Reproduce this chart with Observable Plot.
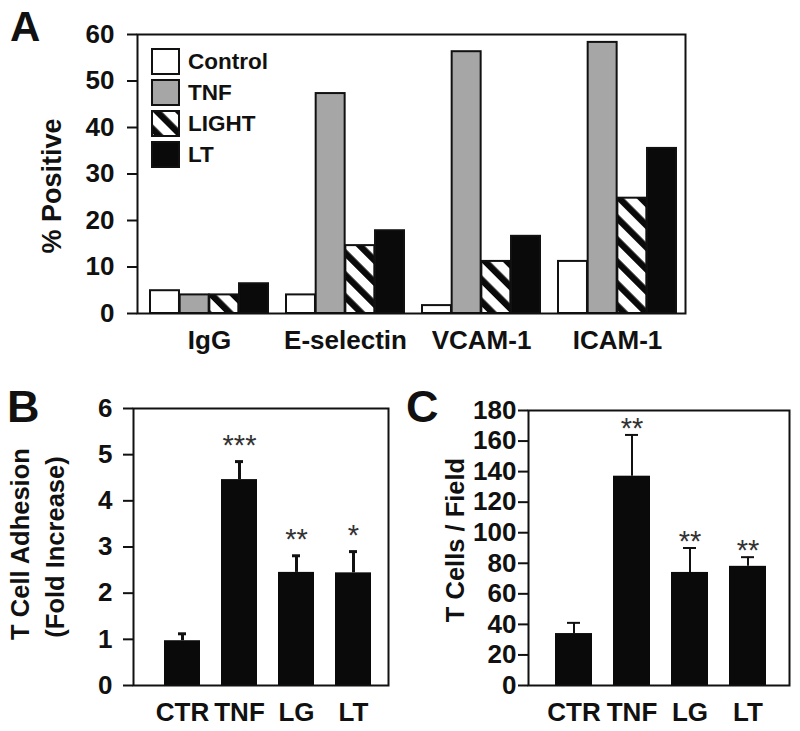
<!DOCTYPE html>
<html>
<head>
<meta charset="utf-8">
<script src="https://cdn.jsdelivr.net/npm/d3@7"></script>
<script src="https://cdn.jsdelivr.net/npm/@observablehq/plot@0.6"></script>
<style>
  body { margin: 0; background: #fff; }
  #wrap { position: relative; width: 800px; height: 731px; background: #fff; color: #111;
          font-family: "Liberation Sans", Arial, sans-serif; font-weight: bold; overflow: hidden; }
  .panel { position: absolute; }
  .letter { position: absolute; font-weight: bold; line-height: 1; }
  .legend { position: absolute; left: 151px; top: 46px; font-size: 22.5px; }
  .legend .row { display: flex; align-items: center; height: 31px; }
  .legend .row svg { margin-right: 7px; }
  #wrap g[aria-label^="y-axis"] line, #wrap g[aria-label^="y-axis"] path { stroke-width: 2px; stroke: #111; }
</style>
</head>
<body>
<div id="wrap"></div>
<script>
// ---------- Panel A data ----------
const groups = ["IgG", "E-selectin", "VCAM-1", "ICAM-1"];
const series = ["Control", "TNF", "LIGHT", "LT"];
const controlVals = [4.9, 4.0, 1.7, 11.2];
const tnfVals = [4.0, 47.3, 56.3, 58.3];
const lightVals = [4.0, 14.6, 11.2, 24.8];
const ltVals = [6.4, 17.8, 16.6, 35.5];
const yTitleA = "% Positive";

// ---------- Panel B data ----------
const conditions = ["CTR", "TNF", "LG", "LT"];
const adhesionMean = [0.97, 4.46, 2.45, 2.44];
const adhesionErr = [0.15, 0.39, 0.36, 0.46];
const adhesionStars = ["", "***", "**", "*"];
const yTitleB1 = "T Cell Adhesion";
const yTitleB2 = "(Fold Increase)";

// ---------- Panel C data ----------
const cellsMean = [34, 137, 74, 78];
const cellsErr = [7, 27, 16, 6];
const cellsStars = ["", "**", "**", "**"];
const yTitleC = "T Cells / Field";

const INK = "#111";
const seriesVals = [controlVals, tnfVals, lightVals, ltVals];
const seriesFill = ["#ffffff", "#a6a6a6", "url(#hatch)", "#0a0a0a"];
const FONT = '"Liberation Sans", Arial, sans-serif';

const wrap = document.getElementById("wrap");
function place(node, left, top) {
  const d = document.createElement("div");
  d.className = "panel";
  d.style.left = left + "px";
  d.style.top = top + "px";
  d.appendChild(node);
  wrap.appendChild(d);
  return d;
}
const baseStyle = { fontFamily: FONT, fontSize: "26px", fontWeight: "bold", color: INK, background: "transparent", overflow: "visible" };

// ---------- Panel A ----------
const A = { width: 700, height: 360, ml: 137, mr: 15, mt: 34, mb: 47, inL: 12, inR: 8, pad: 0.13 };
const bwA = (A.width - A.ml - A.mr - A.inL - A.inR) / (groups.length - A.pad) * (1 - A.pad);
const barW = bwA / series.length;

const plotA = Plot.plot({
  width: A.width, height: A.height,
  marginLeft: A.ml, marginRight: A.mr, marginTop: A.mt, marginBottom: A.mb,
  style: baseStyle,
  x: { domain: groups, paddingInner: A.pad, paddingOuter: 0, insetLeft: A.inL, insetRight: A.inR,
       tickSize: 0, tickPadding: 17, label: null },
  y: { domain: [0, 60], ticks: 6, tickSize: 10, tickPadding: 13, label: null },
  marks: [
    ...series.map((s, i) => Plot.barY(
      groups.map((g, j) => ({ group: g, series: s, value: seriesVals[i][j] })),
      { x: "group", y: "value", fill: seriesFill[i], stroke: INK, strokeWidth: 2,
        insetLeft: i * barW, insetRight: (series.length - 1 - i) * barW })),
    Plot.frame({ stroke: INK, strokeWidth: 2 }),
    Plot.text([yTitleA], { text: d => d, frameAnchor: "left", textAnchor: "middle", lineAnchor: "middle",
      rotate: -90, dx: -85, dy: 12, fontSize: 27, fontWeight: "bold", fill: INK })
  ]
});
d3.select(plotA).insert("defs", ":first-child").html(
  `<pattern id="hatch" patternUnits="userSpaceOnUse" width="15.5" height="15.5" patternTransform="rotate(-45)">
     <rect width="15.5" height="15.5" fill="#fff"/><rect x="0" width="6.5" height="15.5" fill="#0a0a0a"/>
   </pattern>`);
place(plotA, 0, 0);

// ---------- Panels B & C ----------
function errPanel({ means, errs, stars, domain, ticks, ml, mr, mt, mb, inL, inR, pad, tickPadding,
                    errW, capInset, starDy, titles }) {
  const rows = conditions.map((c, i) => ({ cond: c, mean: means[i], top: means[i] + errs[i], star: stars[i] }));
  return Plot.plot({
    width: 400, height: 371,
    marginLeft: ml, marginRight: mr, marginTop: mt, marginBottom: mb,
    style: baseStyle,
    x: { domain: conditions, paddingInner: pad, paddingOuter: 0, insetLeft: inL, insetRight: inR,
         tickSize: 0, tickPadding: 17, label: null },
    y: { domain, ticks, tickSize: 10, tickPadding, label: null },
    marks: [
      Plot.ruleX(rows, { x: "cond", y1: "mean", y2: "top", stroke: INK, strokeWidth: errW }),
      Plot.tickY(rows, { x: "cond", y: "top", stroke: INK, strokeWidth: errW, insetLeft: capInset, insetRight: capInset }),
      Plot.barY(rows, { x: "cond", y: "mean", fill: "#0a0a0a" }),
      Plot.text(rows, { x: "cond", y: "top", text: "star", dy: starDy, lineAnchor: "bottom",
        fontSize: 29, fontWeight: "normal", fill: "#333" }),
      Plot.frame({ stroke: INK, strokeWidth: 2 }),
      ...titles.map(t => Plot.text([t.text], { text: d => d, frameAnchor: "left", textAnchor: "middle",
        lineAnchor: "middle", rotate: -90, dx: t.dx, dy: t.dy, fontSize: 25.5, fontWeight: t.weight, fill: INK }))
    ]
  });
}

const plotB = errPanel({
  means: adhesionMean, errs: adhesionErr, stars: adhesionStars, domain: [0, 6], ticks: 6,
  ml: 133, mr: 12, mt: 48, mb: 46, inL: 30, inR: 17, pad: 0.37, tickPadding: 11,
  errW: 3, capInset: 14, starDy: -7,
  titles: [{ text: yTitleB1, dx: -113, dy: -3, weight: "bold" }, { text: yTitleB2, dx: -78, dy: 0, weight: "bold" }]
});
place(plotB, 0, 360);

const plotC = errPanel({
  means: cellsMean, errs: cellsErr, stars: cellsStars, domain: [0, 180], ticks: 9,
  ml: 128, mr: 11, mt: 50, mb: 46, inL: 26, inR: 23, pad: 0.365, tickPadding: 2,
  errW: 2, capInset: 12, starDy: 3,
  titles: [{ text: yTitleC, dx: -73, dy: -8, weight: "bold" }]
});
place(plotC, 400, 360);

// ---------- Legend (panel A) ----------
const legend = document.createElement("div");
legend.className = "legend";
series.forEach((s, i) => {
  const row = document.createElement("div");
  row.className = "row";
  row.innerHTML = `<svg width="30" height="27"><rect x="1" y="1" width="27" height="25" fill="${seriesFill[i]}" stroke="${INK}" stroke-width="2"/></svg><span>${s}</span>`;
  legend.appendChild(row);
});
wrap.appendChild(legend);

// ---------- Panel letters ----------
[["A", 10, 6, 42], ["B", 7, 384, 45], ["C", 406, 384, 45]].forEach(([t, l, tp, fs]) => {
  const d = document.createElement("div");
  d.className = "letter";
  d.textContent = t;
  d.style.left = l + "px"; d.style.top = tp + "px"; d.style.fontSize = fs + "px";
  wrap.appendChild(d);
});
</script>
</body>
</html>
